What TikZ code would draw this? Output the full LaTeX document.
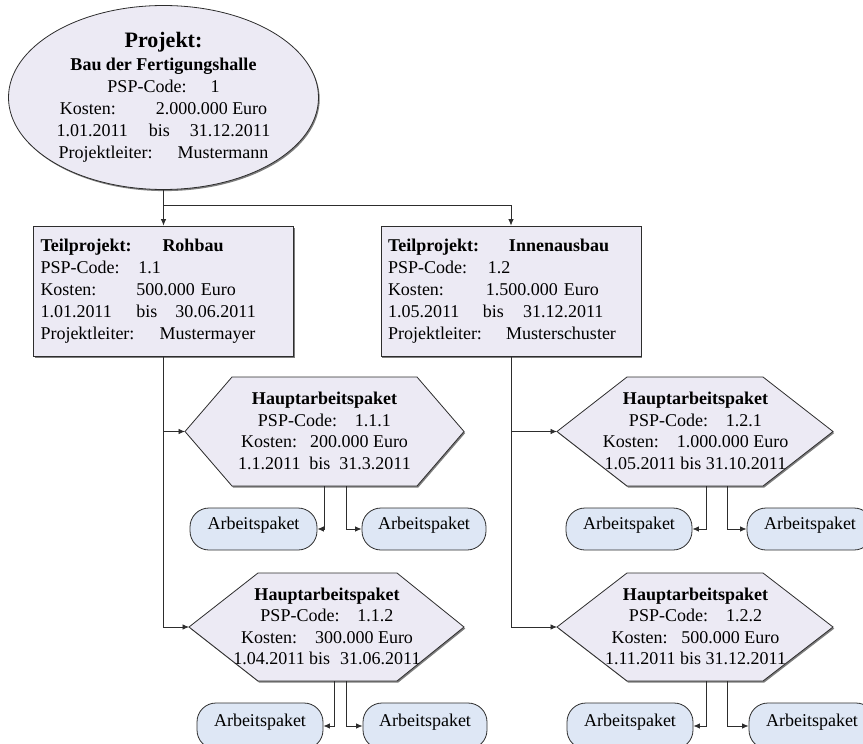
\documentclass[tikz,border=0pt]{standalone}
\usepackage{fontspec}
\setmainfont{Liberation Serif}
\usetikzlibrary{shapes.geometric,arrows.meta,shadows}
\definecolor{nodefill}{RGB}{236,234,244}
\definecolor{pkgfill}{RGB}{222,231,245}
\definecolor{edge}{RGB}{45,45,45}
\definecolor{shade}{RGB}{125,125,125}
\begin{document}
\begin{tikzpicture}[x=1pt,y=-1pt,
  shadowed/.style={drop shadow={shadow xshift=1.2pt,shadow yshift=-1.6pt,fill=shade,opacity=1}},
  txt/.style={font=\fontsize{18}{21.5}\selectfont},
  project/.style={ellipse,draw=edge,line width=0.8pt,fill=nodefill,shadowed,
    minimum width=310pt,minimum height=179pt,inner sep=0pt,align=center,
    font=\fontsize{18}{22}\selectfont},
  subproject/.style={rectangle,draw=edge,line width=0.8pt,fill=nodefill,shadowed,
    text width=246pt,inner xsep=7pt,minimum height=130pt,align=left,
    font=\fontsize{18}{22}\selectfont},
  hexline/.style={draw=edge,line width=0.8pt,fill=nodefill,shadowed},
  hexlabel/.style={align=center,inner sep=0pt,txt},
  workpkg/.style={rectangle,rounded corners=19pt,draw=edge,line width=0.8pt,
    fill=pkgfill,minimum height=42pt,text height=10pt,text depth=10pt,
    inner xsep=0pt,txt},
  lowpkg/.style={workpkg,minimum height=46pt,text height=12pt,text depth=12pt},
  link/.style={draw=edge,line width=0.8pt},
  arrow/.style={link,-{Latex[length=6.5pt,width=5.5pt]}}
]
\useasboundingbox (0,0) rectangle (863,744);

% project
\node[project] (proj) at (163.5,97.5) {{\fontsize{22}{24}\selectfont\bfseries Projekt:}\\[1pt]
  \textbf{Bau der Fertigungshalle}\\
  PSP-Code:\hspace{24pt}1\\
  Kosten:\hspace{40pt}2.000.000 Euro\\
  1.01.2011\hspace{21pt}bis\hspace{20pt}31.12.2011\\
  Projektleiter:\hspace{25pt}Mustermann};

% sub-projects
\node[subproject] (t1) at (163.5,291) {\makebox[122pt][l]{\textbf{Teilprojekt:}}\textbf{Rohbau}\\
  \makebox[98pt][l]{PSP-Code:}1.1\\
  \makebox[96pt][l]{Kosten:}500.000 Euro\\
  \makebox[96pt][l]{1.01.2011}\makebox[39pt][l]{bis}30.06.2011\\
  \makebox[119pt][l]{Projektleiter:}Mustermayer};
\node[subproject] (t2) at (511,291) {\makebox[121pt][l]{\textbf{Teilprojekt:}}\textbf{Innenausbau}\\
  \makebox[100pt][l]{PSP-Code:}1.2\\
  \makebox[98pt][l]{Kosten:}1.500.000 Euro\\
  \makebox[95pt][l]{1.05.2011}\makebox[40pt][l]{bis}31.12.2011\\
  \makebox[118pt][l]{Projektleiter:}Musterschuster};

% main work packages (hexagons)
\path[hexline] (185,431.5) coordinate (h1w) -- (232,377) -- (417,377) -- (464,431.5)
  -- (417,486) -- (232,486) -- cycle;
\node[hexlabel] (h1) at (324.5,431) {\textbf{Hauptarbeitspaket}\\
  PSP-Code:\hspace{18pt}1.1.1\\
  Kosten:\hspace{13pt}200.000 Euro\\
  1.1.2011\hspace{9pt}bis\hspace{9pt}31.3.2011};
\coordinate (h1a) at (324,486);
\coordinate (h1b) at (346,486);

\path[hexline] (189,627) coordinate (h2w) -- (258,573) -- (397,573) -- (464,627)
  -- (397,681) -- (258,681) -- cycle;
\node[hexlabel] (h2) at (327,626.5) {\textbf{Hauptarbeitspaket}\\
  PSP-Code:\hspace{18pt}1.1.2\\
  Kosten:\hspace{18pt}300.000 Euro\\
  1.04.2011 bis\hspace{10pt}31.06.2011};
\coordinate (h2a) at (334,681);
\coordinate (h2b) at (346,681);

\path[hexline] (557,431.5) coordinate (h3w) -- (627,377) -- (763,377) -- (833,431.5)
  -- (763,486) -- (627,486) -- cycle;
\node[hexlabel] (h3) at (695.5,431) {\textbf{Hauptarbeitspaket}\\
  PSP-Code:\hspace{18pt}1.2.1\\
  Kosten:\hspace{18pt}1.000.000 Euro\\
  1.05.2011 bis 31.10.2011};
\coordinate (h3a) at (706,486);
\coordinate (h3b) at (727,486);

\path[hexline] (557,627) coordinate (h4w) -- (627,573) -- (763,573) -- (833,627)
  -- (763,681) -- (627,681) -- cycle;
\node[hexlabel] (h4) at (695.5,626.5) {\textbf{Hauptarbeitspaket}\\
  PSP-Code:\hspace{18pt}1.2.2\\
  Kosten:\hspace{14pt}500.000 Euro\\
  1.11.2011 bis 31.12.2011};
\coordinate (h4a) at (706,681);
\coordinate (h4b) at (727,681);

% work packages
\node[workpkg,minimum width=127pt] (p11) at (253.5,529) {Arbeitspaket};
\node[workpkg,minimum width=124pt] (p12) at (424,529) {Arbeitspaket};
\node[lowpkg,minimum width=126pt] (p21) at (260,726) {Arbeitspaket};
\node[lowpkg,minimum width=124pt] (p22) at (425,726) {Arbeitspaket};
\node[workpkg,minimum width=126pt] (p31) at (629,529) {Arbeitspaket};
\node[workpkg,minimum width=126pt] (p32) at (810,529) {Arbeitspaket};
\node[lowpkg,minimum width=126pt] (p41) at (630,726) {Arbeitspaket};
\node[lowpkg,minimum width=126pt] (p42) at (812,726) {Arbeitspaket};

% connectors
\coordinate (fork) at (163.5,205);
\draw[link] (proj.south) -- (fork);
\draw[arrow] (fork) -- (t1.north);
\draw[arrow] (fork) -| (t2.north);

\draw[arrow] (t1.south) |- (h1w);
\draw[arrow] (t1.south) |- (h2w);
\draw[arrow] (t2.south) |- (h3w);
\draw[arrow] (t2.south) |- (h4w);

\draw[arrow] (h1a) |- (p11.east);
\draw[arrow] (h1b) |- (p12.west);
\draw[arrow] (h2a) |- (p21.east);
\draw[arrow] (h2b) |- (p22.west);
\draw[arrow] (h3a) |- (p31.east);
\draw[arrow] (h3b) |- (p32.west);
\draw[arrow] (h4a) |- (p41.east);
\draw[arrow] (h4b) |- (p42.west);
\end{tikzpicture}
\end{document}
